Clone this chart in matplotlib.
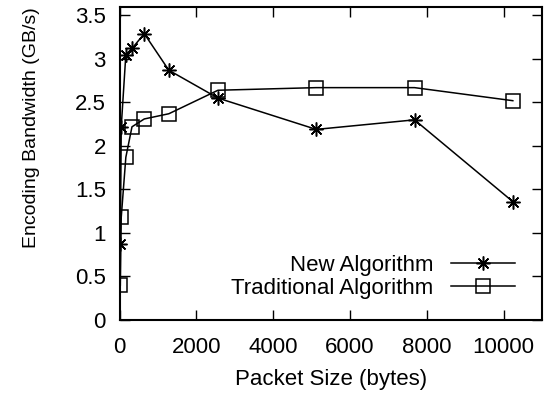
import matplotlib
matplotlib.use("Agg")
import matplotlib.pyplot as plt

plt.rcParams['font.family'] = ['Liberation Sans', 'DejaVu Sans']

# packet sizes (bytes)
sizes = [16, 40, 160, 320, 640, 1280, 2560, 5120, 7680, 10240]
new_alg = [0.87, 2.22, 3.05, 3.12, 3.29, 2.87, 2.55, 2.19, 2.30, 1.36]
trad_alg = [0.40, 1.18, 1.87, 2.22, 2.31, 2.37, 2.64, 2.67, 2.67, 2.52]

xticks = [0, 2000, 4000, 6000, 8000, 10000]
yticks = [0, 0.5, 1, 1.5, 2, 2.5, 3, 3.5]
yticklabels = ['0', '0.5', '1', '1.5', '2', '2.5', '3', '3.5']

fig = plt.figure(figsize=(5.48, 3.93), dpi=100)
ax = fig.add_axes([119.7/548, 73/393, 422.3/548, 313.3/393])

ax.plot(sizes, new_alg, color='black', lw=1.1, marker=(8, 2, 0), ms=10,
        mew=1.1, label='New Algorithm')
ax.plot(sizes, trad_alg, color='black', lw=1.1, marker='s', ms=10,
        mfc='none', mew=1.1, label='Traditional Algorithm')

ax.set_xlim(0, 11000)
ax.set_ylim(0, 3.6)
ax.set_xticks(xticks)
ax.set_yticks(yticks)
ax.set_yticklabels(yticklabels)
ax.tick_params(direction='in', length=7.2, width=1, top=True, right=True,
               labelsize=16)
ax.tick_params(axis='x', pad=12)
ax.tick_params(axis='y', pad=10)
for s in ax.spines.values():
    s.set_linewidth(1.5)

ax.set_xlabel('Packet Size (bytes)', fontsize=16)
ax.set_ylabel('Encoding Bandwidth (GB/s)', fontsize=14)
ax.xaxis.set_label_coords(0.5, -0.157)
ax.yaxis.set_label_coords(-0.189, 0.614)

ax.legend(loc='upper right', bbox_to_anchor=(0.936, 0.207), frameon=False,
          markerfirst=False, fontsize=16, handlelength=2.9,
          handletextpad=0.77, labelspacing=0.08, borderpad=0,
          borderaxespad=0)

fig.savefig('out.png', dpi=100)
